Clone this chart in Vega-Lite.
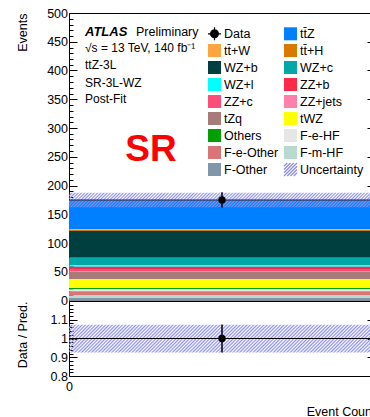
{
  "$schema": "https://vega.github.io/schema/vega-lite/v6.json",
  "padding": {"left": 15, "top": 6, "right": 0, "bottom": 0},
  "bounds": "flush",
  "spacing": 0,
  "config": {
    "font": "Liberation Sans",
    "view": {"stroke": "black", "strokeWidth": 1},
    "axis": {"labelFont": "Liberation Sans", "titleFont": "Liberation Sans", "labelColor": "black", "titleColor": "black", "titleFontWeight": "normal", "labelFontSize": 12.5, "titleFontSize": 12.5, "domain": false, "tickColor": "black", "grid": false, "labelFlush": false, "labelOverlap": false, "labelBound": false},
    "text": {"font": "Liberation Sans", "color": "black"}
  },
  "datasets": {
    "stack": [
      {"sample": "tt̄Z", "lo": 123.8, "hi": 174.8, "bin_lo": 0, "bin_hi": 1},
      {"sample": "tt̄+W", "lo": 122.8, "hi": 123.8, "bin_lo": 0, "bin_hi": 1},
      {"sample": "tt̄+H", "lo": 120.8, "hi": 122.8, "bin_lo": 0, "bin_hi": 1},
      {"sample": "WZ+b", "lo": 74.3, "hi": 120.8, "bin_lo": 0, "bin_hi": 1},
      {"sample": "WZ+c", "lo": 61.3, "hi": 74.3, "bin_lo": 0, "bin_hi": 1},
      {"sample": "WZ+l", "lo": 58.8, "hi": 61.3, "bin_lo": 0, "bin_hi": 1},
      {"sample": "ZZ+b", "lo": 53.3, "hi": 58.8, "bin_lo": 0, "bin_hi": 1},
      {"sample": "ZZ+c", "lo": 51.3, "hi": 53.3, "bin_lo": 0, "bin_hi": 1},
      {"sample": "ZZ+jets", "lo": 50.1, "hi": 51.3, "bin_lo": 0, "bin_hi": 1},
      {"sample": "tZq", "lo": 37.6, "hi": 50.1, "bin_lo": 0, "bin_hi": 1},
      {"sample": "tWZ", "lo": 21.6, "hi": 37.6, "bin_lo": 0, "bin_hi": 1},
      {"sample": "Others", "lo": 19.6, "hi": 21.6, "bin_lo": 0, "bin_hi": 1},
      {"sample": "F-e-HF", "lo": 16.1, "hi": 19.6, "bin_lo": 0, "bin_hi": 1},
      {"sample": "F-e-Other", "lo": 8.6, "hi": 16.1, "bin_lo": 0, "bin_hi": 1},
      {"sample": "F-m-HF", "lo": 4.3, "hi": 8.6, "bin_lo": 0, "bin_hi": 1},
      {"sample": "F-Other", "lo": 0, "hi": 4.3, "bin_lo": 0, "bin_hi": 1}
    ],
    "total": [{"bin_lo": 0, "bin_hi": 1, "pred": 174.8, "unc_lo": 162, "unc_hi": 187.6}],
    "obs": [{"bin_center": 0.5, "events": 175, "err_lo": 161.8, "err_hi": 188.2}],
    "ratio": [{"bin_lo": 0, "bin_hi": 1, "bin_center": 0.5, "ratio": 1.0, "err_lo": 0.925, "err_hi": 1.075, "unc_lo": 0.926, "unc_hi": 1.074, "ref": 1}]
  },
  "vconcat": [
    {
      "width": 306,
      "height": 287.5,
      "resolve": {"axis": {"y": "independent"}},
      "layer": [
        {
          "data": {"name": "stack"},
          "mark": {"type": "rect"},
          "encoding": {
            "x": {"field": "bin_lo", "type": "quantitative", "scale": {"domain": [0, 1], "nice": false}, "axis": null},
            "x2": {"field": "bin_hi"},
            "y": {"field": "lo", "type": "quantitative", "scale": {"domain": [0, 500], "nice": false},
              "axis": {"orient": "left", "values": [0,10,20,30,40,50,60,70,80,90,100,110,120,130,140,150,160,170,180,190,200,210,220,230,240,250,260,270,280,290,300,310,320,330,340,350,360,370,380,390,400,410,420,430,440,450,460,470,480,490,500],
                "labelExpr": "datum.value % 50 === 0 ? datum.label : ''",
                "tickSize": {"condition": {"test": "datum.value % 50 === 0", "value": -8}, "value": -4},
                "labelPadding": 9.5,
                "title": "Events", "titleAnchor": "end", "titleX": -47, "titleBaseline": "middle"}},
            "y2": {"field": "hi"},
            "color": {"field": "sample", "type": "nominal",
              "scale": {"domain": ["Data", "tt̄+W", "WZ+b", "WZ+l", "ZZ+c", "tZq", "Others", "F-e-Other", "F-Other", "tt̄Z", "tt̄+H", "WZ+c", "ZZ+b", "ZZ+jets", "tWZ", "F-e-HF", "F-m-HF", "Uncertainty"],
                "range": ["#000000", "#ffa540", "#003f3f", "#00ffff", "#ff4d7a", "#a87a7a", "#00a000", "#d97575", "#8096aa", "#0080ff", "#d87a00", "#00a8a8", "#ff2a4a", "#ff80a8", "#ffff00", "#e6e6e6", "#b8d9d0", "#9a9ae8"]},
              "legend": {"title": null, "orient": "none", "legendX": 138, "legendY": 13, "columns": 2, "symbolSize": 169, "symbolType": "square",
                "labelFontSize": 12.5, "labelFont": "Liberation Sans", "labelColor": "black", "labelOffset": 2, "columnPadding": 2, "rowPadding": -2.6, "padding": 0,
                "encode": {"symbols": {"update": {
                  "shape": {"signal": "datum.value === 'Data' ? 'M-1,0L1,0M0,-1L0,1M0.6,0A0.6,0.6,0,1,1,-0.6,0A0.6,0.6,0,1,1,0.6,0Z' : (datum.value === 'Uncertainty' ? 'M-1,1L1,-1M-0.5,1L1,-0.5M0,1L1,0M0.5,1L1,0.5M-1,0.5L0.5,-1M-1,0L0,-1M-1,-0.5L-0.5,-1' : 'square')"},
                  "fill": {"signal": "datum.value === 'Uncertainty' ? 'transparent' : scale('color', datum.value)"},
                  "stroke": {"signal": "datum.value === 'Uncertainty' ? '#8a8ae6' : (datum.value === 'Data' ? '#000000' : 'transparent')"},
                  "strokeWidth": {"value": 1.2},
                  "opacity": {"value": 1}
                }}}}}
          }
        },
        {
          "data": {"name": "total"},
          "mark": {"type": "rect", "fill": {"gradient": "linear", "x1": 0, "y1": 0, "x2": 1.048, "y2": 0.0504, "stops": [
{"offset":0,"color":"rgba(143,143,240,1)"},{"offset":0.005,"color":"rgba(143,143,240,0)"},{"offset":0.01,"color":"rgba(143,143,240,1)"},{"offset":0.015,"color":"rgba(143,143,240,0)"},{"offset":0.02,"color":"rgba(143,143,240,1)"},{"offset":0.025,"color":"rgba(143,143,240,0)"},{"offset":0.03,"color":"rgba(143,143,240,1)"},{"offset":0.035,"color":"rgba(143,143,240,0)"},{"offset":0.04,"color":"rgba(143,143,240,1)"},{"offset":0.045,"color":"rgba(143,143,240,0)"},
{"offset":0.05,"color":"rgba(143,143,240,1)"},{"offset":0.055,"color":"rgba(143,143,240,0)"},{"offset":0.06,"color":"rgba(143,143,240,1)"},{"offset":0.065,"color":"rgba(143,143,240,0)"},{"offset":0.07,"color":"rgba(143,143,240,1)"},{"offset":0.075,"color":"rgba(143,143,240,0)"},{"offset":0.08,"color":"rgba(143,143,240,1)"},{"offset":0.085,"color":"rgba(143,143,240,0)"},{"offset":0.09,"color":"rgba(143,143,240,1)"},{"offset":0.095,"color":"rgba(143,143,240,0)"},
{"offset":0.1,"color":"rgba(143,143,240,1)"},{"offset":0.105,"color":"rgba(143,143,240,0)"},{"offset":0.11,"color":"rgba(143,143,240,1)"},{"offset":0.115,"color":"rgba(143,143,240,0)"},{"offset":0.12,"color":"rgba(143,143,240,1)"},{"offset":0.125,"color":"rgba(143,143,240,0)"},{"offset":0.13,"color":"rgba(143,143,240,1)"},{"offset":0.135,"color":"rgba(143,143,240,0)"},{"offset":0.14,"color":"rgba(143,143,240,1)"},{"offset":0.145,"color":"rgba(143,143,240,0)"},
{"offset":0.15,"color":"rgba(143,143,240,1)"},{"offset":0.155,"color":"rgba(143,143,240,0)"},{"offset":0.16,"color":"rgba(143,143,240,1)"},{"offset":0.165,"color":"rgba(143,143,240,0)"},{"offset":0.17,"color":"rgba(143,143,240,1)"},{"offset":0.175,"color":"rgba(143,143,240,0)"},{"offset":0.18,"color":"rgba(143,143,240,1)"},{"offset":0.185,"color":"rgba(143,143,240,0)"},{"offset":0.19,"color":"rgba(143,143,240,1)"},{"offset":0.195,"color":"rgba(143,143,240,0)"},
{"offset":0.2,"color":"rgba(143,143,240,1)"},{"offset":0.205,"color":"rgba(143,143,240,0)"},{"offset":0.21,"color":"rgba(143,143,240,1)"},{"offset":0.215,"color":"rgba(143,143,240,0)"},{"offset":0.22,"color":"rgba(143,143,240,1)"},{"offset":0.225,"color":"rgba(143,143,240,0)"},{"offset":0.23,"color":"rgba(143,143,240,1)"},{"offset":0.235,"color":"rgba(143,143,240,0)"},{"offset":0.24,"color":"rgba(143,143,240,1)"},{"offset":0.245,"color":"rgba(143,143,240,0)"},
{"offset":0.25,"color":"rgba(143,143,240,1)"},{"offset":0.255,"color":"rgba(143,143,240,0)"},{"offset":0.26,"color":"rgba(143,143,240,1)"},{"offset":0.265,"color":"rgba(143,143,240,0)"},{"offset":0.27,"color":"rgba(143,143,240,1)"},{"offset":0.275,"color":"rgba(143,143,240,0)"},{"offset":0.28,"color":"rgba(143,143,240,1)"},{"offset":0.285,"color":"rgba(143,143,240,0)"},{"offset":0.29,"color":"rgba(143,143,240,1)"},{"offset":0.295,"color":"rgba(143,143,240,0)"},
{"offset":0.3,"color":"rgba(143,143,240,1)"},{"offset":0.305,"color":"rgba(143,143,240,0)"},{"offset":0.31,"color":"rgba(143,143,240,1)"},{"offset":0.315,"color":"rgba(143,143,240,0)"},{"offset":0.32,"color":"rgba(143,143,240,1)"},{"offset":0.325,"color":"rgba(143,143,240,0)"},{"offset":0.33,"color":"rgba(143,143,240,1)"},{"offset":0.335,"color":"rgba(143,143,240,0)"},{"offset":0.34,"color":"rgba(143,143,240,1)"},{"offset":0.345,"color":"rgba(143,143,240,0)"},
{"offset":0.35,"color":"rgba(143,143,240,1)"},{"offset":0.355,"color":"rgba(143,143,240,0)"},{"offset":0.36,"color":"rgba(143,143,240,1)"},{"offset":0.365,"color":"rgba(143,143,240,0)"},{"offset":0.37,"color":"rgba(143,143,240,1)"},{"offset":0.375,"color":"rgba(143,143,240,0)"},{"offset":0.38,"color":"rgba(143,143,240,1)"},{"offset":0.385,"color":"rgba(143,143,240,0)"},{"offset":0.39,"color":"rgba(143,143,240,1)"},{"offset":0.395,"color":"rgba(143,143,240,0)"},
{"offset":0.4,"color":"rgba(143,143,240,1)"},{"offset":0.405,"color":"rgba(143,143,240,0)"},{"offset":0.41,"color":"rgba(143,143,240,1)"},{"offset":0.415,"color":"rgba(143,143,240,0)"},{"offset":0.42,"color":"rgba(143,143,240,1)"},{"offset":0.425,"color":"rgba(143,143,240,0)"},{"offset":0.43,"color":"rgba(143,143,240,1)"},{"offset":0.435,"color":"rgba(143,143,240,0)"},{"offset":0.44,"color":"rgba(143,143,240,1)"},{"offset":0.445,"color":"rgba(143,143,240,0)"},
{"offset":0.45,"color":"rgba(143,143,240,1)"},{"offset":0.455,"color":"rgba(143,143,240,0)"},{"offset":0.46,"color":"rgba(143,143,240,1)"},{"offset":0.465,"color":"rgba(143,143,240,0)"},{"offset":0.47,"color":"rgba(143,143,240,1)"},{"offset":0.475,"color":"rgba(143,143,240,0)"},{"offset":0.48,"color":"rgba(143,143,240,1)"},{"offset":0.485,"color":"rgba(143,143,240,0)"},{"offset":0.49,"color":"rgba(143,143,240,1)"},{"offset":0.495,"color":"rgba(143,143,240,0)"},
{"offset":0.5,"color":"rgba(143,143,240,1)"},{"offset":0.505,"color":"rgba(143,143,240,0)"},{"offset":0.51,"color":"rgba(143,143,240,1)"},{"offset":0.515,"color":"rgba(143,143,240,0)"},{"offset":0.52,"color":"rgba(143,143,240,1)"},{"offset":0.525,"color":"rgba(143,143,240,0)"},{"offset":0.53,"color":"rgba(143,143,240,1)"},{"offset":0.535,"color":"rgba(143,143,240,0)"},{"offset":0.54,"color":"rgba(143,143,240,1)"},{"offset":0.545,"color":"rgba(143,143,240,0)"},
{"offset":0.55,"color":"rgba(143,143,240,1)"},{"offset":0.555,"color":"rgba(143,143,240,0)"},{"offset":0.56,"color":"rgba(143,143,240,1)"},{"offset":0.565,"color":"rgba(143,143,240,0)"},{"offset":0.57,"color":"rgba(143,143,240,1)"},{"offset":0.575,"color":"rgba(143,143,240,0)"},{"offset":0.58,"color":"rgba(143,143,240,1)"},{"offset":0.585,"color":"rgba(143,143,240,0)"},{"offset":0.59,"color":"rgba(143,143,240,1)"},{"offset":0.595,"color":"rgba(143,143,240,0)"},
{"offset":0.6,"color":"rgba(143,143,240,1)"},{"offset":0.605,"color":"rgba(143,143,240,0)"},{"offset":0.61,"color":"rgba(143,143,240,1)"},{"offset":0.615,"color":"rgba(143,143,240,0)"},{"offset":0.62,"color":"rgba(143,143,240,1)"},{"offset":0.625,"color":"rgba(143,143,240,0)"},{"offset":0.63,"color":"rgba(143,143,240,1)"},{"offset":0.635,"color":"rgba(143,143,240,0)"},{"offset":0.64,"color":"rgba(143,143,240,1)"},{"offset":0.645,"color":"rgba(143,143,240,0)"},
{"offset":0.65,"color":"rgba(143,143,240,1)"},{"offset":0.655,"color":"rgba(143,143,240,0)"},{"offset":0.66,"color":"rgba(143,143,240,1)"},{"offset":0.665,"color":"rgba(143,143,240,0)"},{"offset":0.67,"color":"rgba(143,143,240,1)"},{"offset":0.675,"color":"rgba(143,143,240,0)"},{"offset":0.68,"color":"rgba(143,143,240,1)"},{"offset":0.685,"color":"rgba(143,143,240,0)"},{"offset":0.69,"color":"rgba(143,143,240,1)"},{"offset":0.695,"color":"rgba(143,143,240,0)"},
{"offset":0.7,"color":"rgba(143,143,240,1)"},{"offset":0.705,"color":"rgba(143,143,240,0)"},{"offset":0.71,"color":"rgba(143,143,240,1)"},{"offset":0.715,"color":"rgba(143,143,240,0)"},{"offset":0.72,"color":"rgba(143,143,240,1)"},{"offset":0.725,"color":"rgba(143,143,240,0)"},{"offset":0.73,"color":"rgba(143,143,240,1)"},{"offset":0.735,"color":"rgba(143,143,240,0)"},{"offset":0.74,"color":"rgba(143,143,240,1)"},{"offset":0.745,"color":"rgba(143,143,240,0)"},
{"offset":0.75,"color":"rgba(143,143,240,1)"},{"offset":0.755,"color":"rgba(143,143,240,0)"},{"offset":0.76,"color":"rgba(143,143,240,1)"},{"offset":0.765,"color":"rgba(143,143,240,0)"},{"offset":0.77,"color":"rgba(143,143,240,1)"},{"offset":0.775,"color":"rgba(143,143,240,0)"},{"offset":0.78,"color":"rgba(143,143,240,1)"},{"offset":0.785,"color":"rgba(143,143,240,0)"},{"offset":0.79,"color":"rgba(143,143,240,1)"},{"offset":0.795,"color":"rgba(143,143,240,0)"},
{"offset":0.8,"color":"rgba(143,143,240,1)"},{"offset":0.805,"color":"rgba(143,143,240,0)"},{"offset":0.81,"color":"rgba(143,143,240,1)"},{"offset":0.815,"color":"rgba(143,143,240,0)"},{"offset":0.82,"color":"rgba(143,143,240,1)"},{"offset":0.825,"color":"rgba(143,143,240,0)"},{"offset":0.83,"color":"rgba(143,143,240,1)"},{"offset":0.835,"color":"rgba(143,143,240,0)"},{"offset":0.84,"color":"rgba(143,143,240,1)"},{"offset":0.845,"color":"rgba(143,143,240,0)"},
{"offset":0.85,"color":"rgba(143,143,240,1)"},{"offset":0.855,"color":"rgba(143,143,240,0)"},{"offset":0.86,"color":"rgba(143,143,240,1)"},{"offset":0.865,"color":"rgba(143,143,240,0)"},{"offset":0.87,"color":"rgba(143,143,240,1)"},{"offset":0.875,"color":"rgba(143,143,240,0)"},{"offset":0.88,"color":"rgba(143,143,240,1)"},{"offset":0.885,"color":"rgba(143,143,240,0)"},{"offset":0.89,"color":"rgba(143,143,240,1)"},{"offset":0.895,"color":"rgba(143,143,240,0)"},
{"offset":0.9,"color":"rgba(143,143,240,1)"},{"offset":0.905,"color":"rgba(143,143,240,0)"},{"offset":0.91,"color":"rgba(143,143,240,1)"},{"offset":0.915,"color":"rgba(143,143,240,0)"},{"offset":0.92,"color":"rgba(143,143,240,1)"},{"offset":0.925,"color":"rgba(143,143,240,0)"},{"offset":0.93,"color":"rgba(143,143,240,1)"},{"offset":0.935,"color":"rgba(143,143,240,0)"},{"offset":0.94,"color":"rgba(143,143,240,1)"},{"offset":0.945,"color":"rgba(143,143,240,0)"},
{"offset":0.95,"color":"rgba(143,143,240,1)"},{"offset":0.955,"color":"rgba(143,143,240,0)"},{"offset":0.96,"color":"rgba(143,143,240,1)"},{"offset":0.965,"color":"rgba(143,143,240,0)"},{"offset":0.97,"color":"rgba(143,143,240,1)"},{"offset":0.975,"color":"rgba(143,143,240,0)"},{"offset":0.98,"color":"rgba(143,143,240,1)"},{"offset":0.985,"color":"rgba(143,143,240,0)"},{"offset":0.99,"color":"rgba(143,143,240,1)"},{"offset":0.995,"color":"rgba(143,143,240,0)"},
{"offset":1,"color":"rgba(143,143,240,1)"}
          ]}},
          "encoding": {
            "x": {"field": "bin_lo", "type": "quantitative", "axis": null},
            "x2": {"field": "bin_hi"},
            "y": {"field": "unc_lo", "type": "quantitative",
              "axis": {"orient": "right", "labels": false, "title": null, "values": [0,10,20,30,40,50,60,70,80,90,100,110,120,130,140,150,160,170,180,190,200,210,220,230,240,250,260,270,280,290,300,310,320,330,340,350,360,370,380,390,400,410,420,430,440,450,460,470,480,490,500],
                "tickSize": {"condition": {"test": "datum.value % 50 === 0", "value": -8}, "value": -4}}},
            "y2": {"field": "unc_hi"}
          }
        },
        {
          "data": {"name": "total"},
          "mark": {"type": "rule", "color": "#222222", "strokeWidth": 1},
          "encoding": {
            "x": {"field": "bin_lo", "type": "quantitative", "axis": null},
            "x2": {"field": "bin_hi"},
            "y": {"field": "pred", "type": "quantitative", "axis": null}
          }
        },
        {
          "data": {"name": "obs"},
          "mark": {"type": "rule", "color": "black", "strokeWidth": 1.5},
          "encoding": {
            "x": {"field": "bin_center", "type": "quantitative", "axis": null},
            "y": {"field": "err_lo", "type": "quantitative", "axis": null},
            "y2": {"field": "err_hi"}
          }
        },
        {
          "data": {"name": "obs"},
          "mark": {"type": "circle", "color": "black", "opacity": 1, "size": 55},
          "encoding": {
            "x": {"field": "bin_center", "type": "quantitative", "axis": null},
            "y": {"field": "events", "type": "quantitative", "axis": null}
          }
        },
        {
          "data": {"values": [{}]},
          "mark": {"type": "text", "align": "left", "baseline": "middle", "fontSize": 13, "fontWeight": "bold", "fontStyle": "italic"},
          "encoding": {"x": {"datum": 0.0523, "type": "quantitative", "axis": null}, "y": {"datum": 467.8, "type": "quantitative", "axis": null}, "text": {"value": "ATLAS"}}
        },
        {
          "data": {"values": [{}]},
          "mark": {"type": "text", "align": "left", "baseline": "middle", "fontSize": 12.5},
          "encoding": {"x": {"datum": 0.219, "type": "quantitative", "axis": null}, "y": {"datum": 467.8, "type": "quantitative", "axis": null}, "text": {"value": "Preliminary"}}
        },
        {
          "data": {"values": [{}]},
          "mark": {"type": "text", "align": "left", "baseline": "middle", "fontSize": 12},
          "encoding": {"x": {"datum": 0.0523, "type": "quantitative", "axis": null}, "y": {"datum": 438.3, "type": "quantitative", "axis": null}, "text": {"value": "√s = 13 TeV, 140 fb⁻¹"}}
        },
        {
          "data": {"values": [{}]},
          "mark": {"type": "text", "align": "left", "baseline": "middle", "fontSize": 12},
          "encoding": {"x": {"datum": 0.0523, "type": "quantitative", "axis": null}, "y": {"datum": 408.7, "type": "quantitative", "axis": null}, "text": {"value": "ttZ-3L"}}
        },
        {
          "data": {"values": [{}]},
          "mark": {"type": "text", "align": "left", "baseline": "middle", "fontSize": 12},
          "encoding": {"x": {"datum": 0.0523, "type": "quantitative", "axis": null}, "y": {"datum": 379.1, "type": "quantitative", "axis": null}, "text": {"value": "SR-3L-WZ"}}
        },
        {
          "data": {"values": [{}]},
          "mark": {"type": "text", "align": "left", "baseline": "middle", "fontSize": 12},
          "encoding": {"x": {"datum": 0.0523, "type": "quantitative", "axis": null}, "y": {"datum": 349.6, "type": "quantitative", "axis": null}, "text": {"value": "Post-Fit"}}
        },
        {
          "data": {"values": [{}]},
          "mark": {"type": "text", "align": "center", "baseline": "middle", "fontSize": 37, "fontWeight": "bold", "color": "#ff0000"},
          "encoding": {"x": {"datum": 0.268, "type": "quantitative", "axis": null}, "y": {"datum": 261, "type": "quantitative", "axis": null}, "text": {"value": "SR"}}
        }
      ]
    },
    {
      "width": 306,
      "height": 75,
      "resolve": {"axis": {"y": "independent"}},
      "layer": [
        {
          "data": {"name": "ratio"},
          "mark": {"type": "rect", "fill": {"gradient": "linear", "x1": 0, "y1": 0, "x2": 1.0907, "y2": 0.0989, "stops": [
{"offset":0,"color":"rgba(143,143,240,1)"},{"offset":0.005,"color":"rgba(143,143,240,0)"},{"offset":0.01,"color":"rgba(143,143,240,1)"},{"offset":0.015,"color":"rgba(143,143,240,0)"},{"offset":0.02,"color":"rgba(143,143,240,1)"},{"offset":0.025,"color":"rgba(143,143,240,0)"},{"offset":0.03,"color":"rgba(143,143,240,1)"},{"offset":0.035,"color":"rgba(143,143,240,0)"},{"offset":0.04,"color":"rgba(143,143,240,1)"},{"offset":0.045,"color":"rgba(143,143,240,0)"},
{"offset":0.05,"color":"rgba(143,143,240,1)"},{"offset":0.055,"color":"rgba(143,143,240,0)"},{"offset":0.06,"color":"rgba(143,143,240,1)"},{"offset":0.065,"color":"rgba(143,143,240,0)"},{"offset":0.07,"color":"rgba(143,143,240,1)"},{"offset":0.075,"color":"rgba(143,143,240,0)"},{"offset":0.08,"color":"rgba(143,143,240,1)"},{"offset":0.085,"color":"rgba(143,143,240,0)"},{"offset":0.09,"color":"rgba(143,143,240,1)"},{"offset":0.095,"color":"rgba(143,143,240,0)"},
{"offset":0.1,"color":"rgba(143,143,240,1)"},{"offset":0.105,"color":"rgba(143,143,240,0)"},{"offset":0.11,"color":"rgba(143,143,240,1)"},{"offset":0.115,"color":"rgba(143,143,240,0)"},{"offset":0.12,"color":"rgba(143,143,240,1)"},{"offset":0.125,"color":"rgba(143,143,240,0)"},{"offset":0.13,"color":"rgba(143,143,240,1)"},{"offset":0.135,"color":"rgba(143,143,240,0)"},{"offset":0.14,"color":"rgba(143,143,240,1)"},{"offset":0.145,"color":"rgba(143,143,240,0)"},
{"offset":0.15,"color":"rgba(143,143,240,1)"},{"offset":0.155,"color":"rgba(143,143,240,0)"},{"offset":0.16,"color":"rgba(143,143,240,1)"},{"offset":0.165,"color":"rgba(143,143,240,0)"},{"offset":0.17,"color":"rgba(143,143,240,1)"},{"offset":0.175,"color":"rgba(143,143,240,0)"},{"offset":0.18,"color":"rgba(143,143,240,1)"},{"offset":0.185,"color":"rgba(143,143,240,0)"},{"offset":0.19,"color":"rgba(143,143,240,1)"},{"offset":0.195,"color":"rgba(143,143,240,0)"},
{"offset":0.2,"color":"rgba(143,143,240,1)"},{"offset":0.205,"color":"rgba(143,143,240,0)"},{"offset":0.21,"color":"rgba(143,143,240,1)"},{"offset":0.215,"color":"rgba(143,143,240,0)"},{"offset":0.22,"color":"rgba(143,143,240,1)"},{"offset":0.225,"color":"rgba(143,143,240,0)"},{"offset":0.23,"color":"rgba(143,143,240,1)"},{"offset":0.235,"color":"rgba(143,143,240,0)"},{"offset":0.24,"color":"rgba(143,143,240,1)"},{"offset":0.245,"color":"rgba(143,143,240,0)"},
{"offset":0.25,"color":"rgba(143,143,240,1)"},{"offset":0.255,"color":"rgba(143,143,240,0)"},{"offset":0.26,"color":"rgba(143,143,240,1)"},{"offset":0.265,"color":"rgba(143,143,240,0)"},{"offset":0.27,"color":"rgba(143,143,240,1)"},{"offset":0.275,"color":"rgba(143,143,240,0)"},{"offset":0.28,"color":"rgba(143,143,240,1)"},{"offset":0.285,"color":"rgba(143,143,240,0)"},{"offset":0.29,"color":"rgba(143,143,240,1)"},{"offset":0.295,"color":"rgba(143,143,240,0)"},
{"offset":0.3,"color":"rgba(143,143,240,1)"},{"offset":0.305,"color":"rgba(143,143,240,0)"},{"offset":0.31,"color":"rgba(143,143,240,1)"},{"offset":0.315,"color":"rgba(143,143,240,0)"},{"offset":0.32,"color":"rgba(143,143,240,1)"},{"offset":0.325,"color":"rgba(143,143,240,0)"},{"offset":0.33,"color":"rgba(143,143,240,1)"},{"offset":0.335,"color":"rgba(143,143,240,0)"},{"offset":0.34,"color":"rgba(143,143,240,1)"},{"offset":0.345,"color":"rgba(143,143,240,0)"},
{"offset":0.35,"color":"rgba(143,143,240,1)"},{"offset":0.355,"color":"rgba(143,143,240,0)"},{"offset":0.36,"color":"rgba(143,143,240,1)"},{"offset":0.365,"color":"rgba(143,143,240,0)"},{"offset":0.37,"color":"rgba(143,143,240,1)"},{"offset":0.375,"color":"rgba(143,143,240,0)"},{"offset":0.38,"color":"rgba(143,143,240,1)"},{"offset":0.385,"color":"rgba(143,143,240,0)"},{"offset":0.39,"color":"rgba(143,143,240,1)"},{"offset":0.395,"color":"rgba(143,143,240,0)"},
{"offset":0.4,"color":"rgba(143,143,240,1)"},{"offset":0.405,"color":"rgba(143,143,240,0)"},{"offset":0.41,"color":"rgba(143,143,240,1)"},{"offset":0.415,"color":"rgba(143,143,240,0)"},{"offset":0.42,"color":"rgba(143,143,240,1)"},{"offset":0.425,"color":"rgba(143,143,240,0)"},{"offset":0.43,"color":"rgba(143,143,240,1)"},{"offset":0.435,"color":"rgba(143,143,240,0)"},{"offset":0.44,"color":"rgba(143,143,240,1)"},{"offset":0.445,"color":"rgba(143,143,240,0)"},
{"offset":0.45,"color":"rgba(143,143,240,1)"},{"offset":0.455,"color":"rgba(143,143,240,0)"},{"offset":0.46,"color":"rgba(143,143,240,1)"},{"offset":0.465,"color":"rgba(143,143,240,0)"},{"offset":0.47,"color":"rgba(143,143,240,1)"},{"offset":0.475,"color":"rgba(143,143,240,0)"},{"offset":0.48,"color":"rgba(143,143,240,1)"},{"offset":0.485,"color":"rgba(143,143,240,0)"},{"offset":0.49,"color":"rgba(143,143,240,1)"},{"offset":0.495,"color":"rgba(143,143,240,0)"},
{"offset":0.5,"color":"rgba(143,143,240,1)"},{"offset":0.505,"color":"rgba(143,143,240,0)"},{"offset":0.51,"color":"rgba(143,143,240,1)"},{"offset":0.515,"color":"rgba(143,143,240,0)"},{"offset":0.52,"color":"rgba(143,143,240,1)"},{"offset":0.525,"color":"rgba(143,143,240,0)"},{"offset":0.53,"color":"rgba(143,143,240,1)"},{"offset":0.535,"color":"rgba(143,143,240,0)"},{"offset":0.54,"color":"rgba(143,143,240,1)"},{"offset":0.545,"color":"rgba(143,143,240,0)"},
{"offset":0.55,"color":"rgba(143,143,240,1)"},{"offset":0.555,"color":"rgba(143,143,240,0)"},{"offset":0.56,"color":"rgba(143,143,240,1)"},{"offset":0.565,"color":"rgba(143,143,240,0)"},{"offset":0.57,"color":"rgba(143,143,240,1)"},{"offset":0.575,"color":"rgba(143,143,240,0)"},{"offset":0.58,"color":"rgba(143,143,240,1)"},{"offset":0.585,"color":"rgba(143,143,240,0)"},{"offset":0.59,"color":"rgba(143,143,240,1)"},{"offset":0.595,"color":"rgba(143,143,240,0)"},
{"offset":0.6,"color":"rgba(143,143,240,1)"},{"offset":0.605,"color":"rgba(143,143,240,0)"},{"offset":0.61,"color":"rgba(143,143,240,1)"},{"offset":0.615,"color":"rgba(143,143,240,0)"},{"offset":0.62,"color":"rgba(143,143,240,1)"},{"offset":0.625,"color":"rgba(143,143,240,0)"},{"offset":0.63,"color":"rgba(143,143,240,1)"},{"offset":0.635,"color":"rgba(143,143,240,0)"},{"offset":0.64,"color":"rgba(143,143,240,1)"},{"offset":0.645,"color":"rgba(143,143,240,0)"},
{"offset":0.65,"color":"rgba(143,143,240,1)"},{"offset":0.655,"color":"rgba(143,143,240,0)"},{"offset":0.66,"color":"rgba(143,143,240,1)"},{"offset":0.665,"color":"rgba(143,143,240,0)"},{"offset":0.67,"color":"rgba(143,143,240,1)"},{"offset":0.675,"color":"rgba(143,143,240,0)"},{"offset":0.68,"color":"rgba(143,143,240,1)"},{"offset":0.685,"color":"rgba(143,143,240,0)"},{"offset":0.69,"color":"rgba(143,143,240,1)"},{"offset":0.695,"color":"rgba(143,143,240,0)"},
{"offset":0.7,"color":"rgba(143,143,240,1)"},{"offset":0.705,"color":"rgba(143,143,240,0)"},{"offset":0.71,"color":"rgba(143,143,240,1)"},{"offset":0.715,"color":"rgba(143,143,240,0)"},{"offset":0.72,"color":"rgba(143,143,240,1)"},{"offset":0.725,"color":"rgba(143,143,240,0)"},{"offset":0.73,"color":"rgba(143,143,240,1)"},{"offset":0.735,"color":"rgba(143,143,240,0)"},{"offset":0.74,"color":"rgba(143,143,240,1)"},{"offset":0.745,"color":"rgba(143,143,240,0)"},
{"offset":0.75,"color":"rgba(143,143,240,1)"},{"offset":0.755,"color":"rgba(143,143,240,0)"},{"offset":0.76,"color":"rgba(143,143,240,1)"},{"offset":0.765,"color":"rgba(143,143,240,0)"},{"offset":0.77,"color":"rgba(143,143,240,1)"},{"offset":0.775,"color":"rgba(143,143,240,0)"},{"offset":0.78,"color":"rgba(143,143,240,1)"},{"offset":0.785,"color":"rgba(143,143,240,0)"},{"offset":0.79,"color":"rgba(143,143,240,1)"},{"offset":0.795,"color":"rgba(143,143,240,0)"},
{"offset":0.8,"color":"rgba(143,143,240,1)"},{"offset":0.805,"color":"rgba(143,143,240,0)"},{"offset":0.81,"color":"rgba(143,143,240,1)"},{"offset":0.815,"color":"rgba(143,143,240,0)"},{"offset":0.82,"color":"rgba(143,143,240,1)"},{"offset":0.825,"color":"rgba(143,143,240,0)"},{"offset":0.83,"color":"rgba(143,143,240,1)"},{"offset":0.835,"color":"rgba(143,143,240,0)"},{"offset":0.84,"color":"rgba(143,143,240,1)"},{"offset":0.845,"color":"rgba(143,143,240,0)"},
{"offset":0.85,"color":"rgba(143,143,240,1)"},{"offset":0.855,"color":"rgba(143,143,240,0)"},{"offset":0.86,"color":"rgba(143,143,240,1)"},{"offset":0.865,"color":"rgba(143,143,240,0)"},{"offset":0.87,"color":"rgba(143,143,240,1)"},{"offset":0.875,"color":"rgba(143,143,240,0)"},{"offset":0.88,"color":"rgba(143,143,240,1)"},{"offset":0.885,"color":"rgba(143,143,240,0)"},{"offset":0.89,"color":"rgba(143,143,240,1)"},{"offset":0.895,"color":"rgba(143,143,240,0)"},
{"offset":0.9,"color":"rgba(143,143,240,1)"},{"offset":0.905,"color":"rgba(143,143,240,0)"},{"offset":0.91,"color":"rgba(143,143,240,1)"},{"offset":0.915,"color":"rgba(143,143,240,0)"},{"offset":0.92,"color":"rgba(143,143,240,1)"},{"offset":0.925,"color":"rgba(143,143,240,0)"},{"offset":0.93,"color":"rgba(143,143,240,1)"},{"offset":0.935,"color":"rgba(143,143,240,0)"},{"offset":0.94,"color":"rgba(143,143,240,1)"},{"offset":0.945,"color":"rgba(143,143,240,0)"},
{"offset":0.95,"color":"rgba(143,143,240,1)"},{"offset":0.955,"color":"rgba(143,143,240,0)"},{"offset":0.96,"color":"rgba(143,143,240,1)"},{"offset":0.965,"color":"rgba(143,143,240,0)"},{"offset":0.97,"color":"rgba(143,143,240,1)"},{"offset":0.975,"color":"rgba(143,143,240,0)"},{"offset":0.98,"color":"rgba(143,143,240,1)"},{"offset":0.985,"color":"rgba(143,143,240,0)"},{"offset":0.99,"color":"rgba(143,143,240,1)"},{"offset":0.995,"color":"rgba(143,143,240,0)"},
{"offset":1,"color":"rgba(143,143,240,1)"}
          ]}},
          "encoding": {
            "x": {"field": "bin_lo", "type": "quantitative", "scale": {"domain": [0, 1], "nice": false},
              "axis": {"values": [0], "format": "~g", "title": "Event Count", "titleAnchor": "end", "titleBaseline": "middle", "titleY": 35, "ticks": false, "labelPadding": 4}},
            "x2": {"field": "bin_hi"},
            "y": {"field": "unc_lo", "type": "quantitative", "scale": {"domain": [0.8, 1.2], "nice": false, "zero": false},
              "axis": {"orient": "left", "values": [0.8,0.82,0.84,0.86,0.88,0.9,0.92,0.94,0.96,0.98,1,1.02,1.04,1.06,1.08,1.1,1.12,1.14,1.16,1.18,1.2],
                "format": "~g",
                "labelExpr": "abs(datum.value*10 - round(datum.value*10)) < 0.001 && datum.value < 1.15 ? datum.label : ''",
                "tickSize": {"condition": {"test": "abs(datum.value*10 - round(datum.value*10)) < 0.001", "value": -8}, "value": -4},
                "labelPadding": 9.5,
                "title": "Data / Pred.", "titleAnchor": "end", "titleX": -47, "titleBaseline": "middle"}},
            "y2": {"field": "unc_hi"}
          }
        },
        {
          "data": {"name": "ratio"},
          "mark": {"type": "rule", "color": "black", "strokeWidth": 1},
          "encoding": {
            "x": {"field": "bin_lo", "type": "quantitative"},
            "x2": {"field": "bin_hi"},
            "y": {"field": "ref", "type": "quantitative",
              "axis": {"orient": "right", "labels": false, "title": null, "values": [0.8,0.82,0.84,0.86,0.88,0.9,0.92,0.94,0.96,0.98,1,1.02,1.04,1.06,1.08,1.1,1.12,1.14,1.16,1.18,1.2],
                "tickSize": {"condition": {"test": "abs(datum.value*10 - round(datum.value*10)) < 0.001", "value": -8}, "value": -4}}}
          }
        },
        {
          "data": {"name": "ratio"},
          "mark": {"type": "rule", "color": "black", "strokeWidth": 1.5},
          "encoding": {
            "x": {"field": "bin_center", "type": "quantitative"},
            "y": {"field": "err_lo", "type": "quantitative", "axis": null},
            "y2": {"field": "err_hi"}
          }
        },
        {
          "data": {"name": "ratio"},
          "mark": {"type": "circle", "color": "black", "opacity": 1, "size": 55},
          "encoding": {
            "x": {"field": "bin_center", "type": "quantitative"},
            "y": {"field": "ratio", "type": "quantitative", "axis": null}
          }
        }
      ]
    }
  ]
}
